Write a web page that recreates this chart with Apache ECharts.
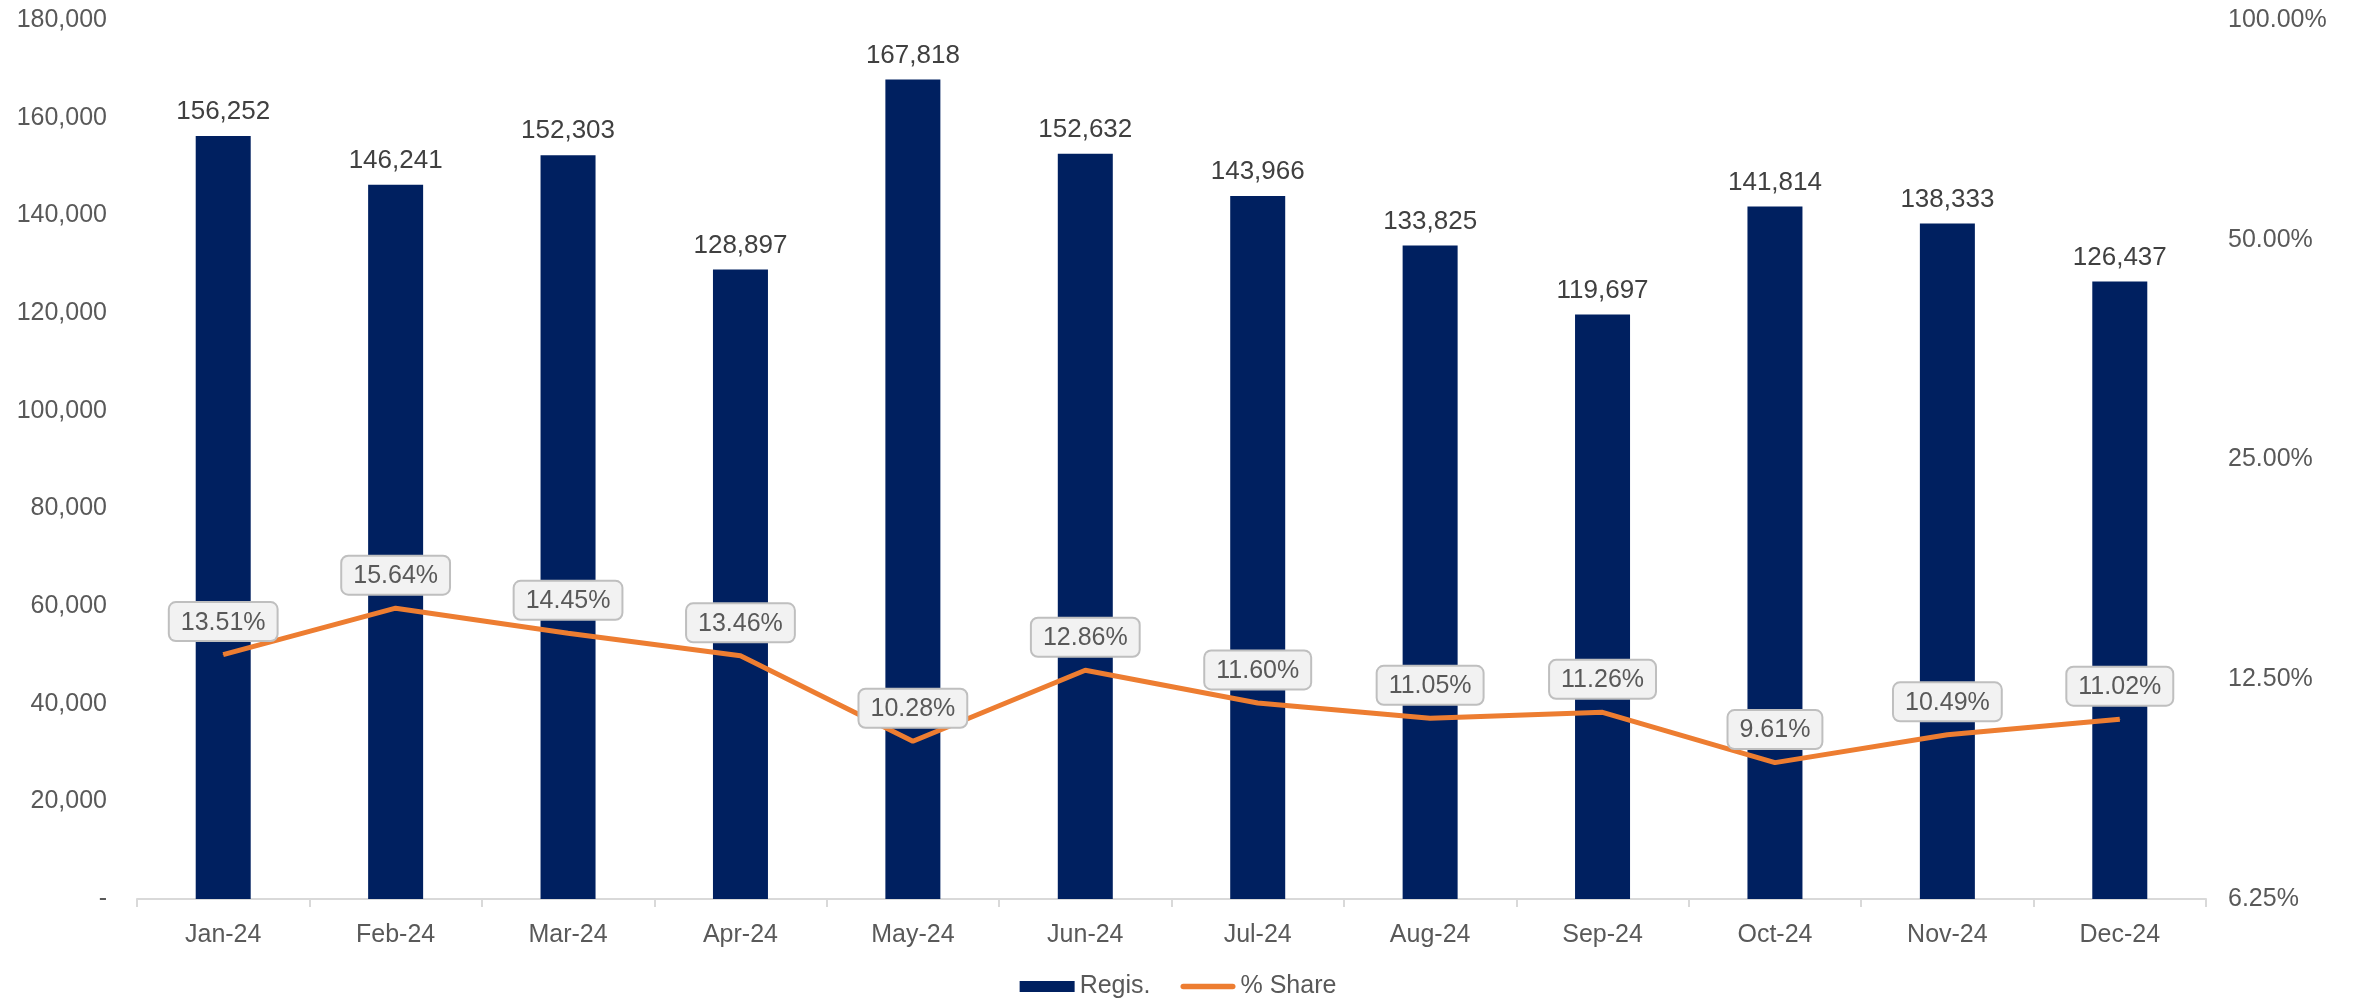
<!DOCTYPE html>
<html>
<head>
<meta charset="utf-8">
<script src="https://cdn.jsdelivr.net/npm/echarts@6/dist/echarts.min.js"></script>
<style>
html,body{margin:0;padding:0;background:#fff;}
#chart{width:2356px;height:1004px;}
</style>
</head>
<body>
<div id="chart"></div>
<script>
const categories = ['Jan-24','Feb-24','Mar-24','Apr-24','May-24','Jun-24','Jul-24','Aug-24','Sep-24','Oct-24','Nov-24','Dec-24'];
const regis = [156252,146241,152303,128897,167818,152632,143966,133825,119697,141814,138333,126437];
const share = [0.1351,0.1564,0.1445,0.1346,0.1028,0.1286,0.1160,0.1105,0.1126,0.0961,0.1049,0.1102];

const FONT = '"Liberation Sans", Arial, sans-serif';
const chart = echarts.init(document.getElementById('chart'));
chart.setOption({
  animation: false,
  textStyle: { fontFamily: FONT },
  grid: { left: 137, right: 150, top: 20, bottom: 105 },
  legend: {
    bottom: 0,
    left: 'center',
    itemGap: 30,
    itemWidth: 55,
    itemHeight: 11,
    textStyle: { fontSize: 25, color: '#595959', fontFamily: FONT },
    data: [
      { name: 'Regis.', icon: 'rect' },
      { name: '% Share', icon: 'path://M3,0 H57 A3,3 0 0 1 57,6 H3 A3,3 0 0 1 3,0 Z' }
    ]
  },
  xAxis: {
    type: 'category',
    data: categories,
    axisLine: { lineStyle: { color: '#d9d9d9', width: 2 } },
    axisTick: { show: true, length: 8, lineStyle: { color: '#d9d9d9', width: 2 } },
    axisLabel: { fontSize: 25, color: '#595959', margin: 24, fontFamily: FONT }
  },
  yAxis: [
    {
      type: 'value',
      min: 0, max: 180000, interval: 20000,
      splitLine: { show: false },
      axisLine: { show: false },
      axisTick: { show: false },
      axisLabel: {
        fontSize: 25, color: '#595959', margin: 30, fontFamily: FONT,
        formatter: v => v === 0 ? '-' : v.toLocaleString('en-US')
      }
    },
    {
      type: 'log',
      logBase: 2,
      min: 0.0625, max: 1,
      splitLine: { show: false },
      axisLine: { show: false },
      axisTick: { show: false },
      axisLabel: {
        fontSize: 25, color: '#595959', margin: 22, fontFamily: FONT,
        formatter: v => (v * 100).toFixed(2) + '%'
      }
    }
  ],
  series: [
    {
      name: 'Regis.',
      type: 'bar',
      data: regis,
      barWidth: 55,
      itemStyle: { color: '#002060' },
      label: {
        show: true, position: 'top', distance: 11,
        fontSize: 26, color: '#404040', fontFamily: FONT,
        formatter: p => p.value.toLocaleString('en-US')
      },
      z: 2
    },
    {
      name: '% Share',
      type: 'line',
      yAxisIndex: 1,
      data: share,
      symbol: 'circle',
      symbolSize: 1,
      lineStyle: { color: '#ED7D31', width: 5 },
      itemStyle: { color: '#ED7D31' },
      label: {
        show: true, position: 'top', distance: 14,
        fontSize: 25, color: '#595959', fontFamily: FONT,
        backgroundColor: '#f2f2f2', borderColor: '#bfbfbf', borderWidth: 2, borderRadius: 6,
        padding: [7, 11, 5, 11],
        formatter: p => (p.value * 100).toFixed(2) + '%'
      },
      z: 5
    }
  ]
});
</script>
</body>
</html>
